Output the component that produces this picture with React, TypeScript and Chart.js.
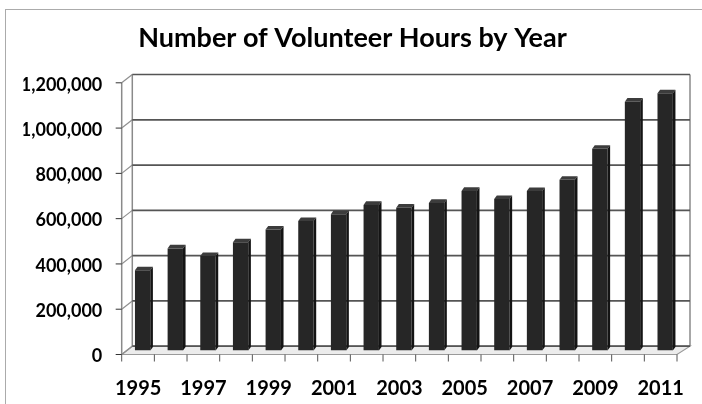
import React, { useEffect, useRef } from "react";
import { Chart, registerables } from "chart.js";

Chart.register(...registerables);

const years = ["1995", "1996", "1997", "1998", "1999", "2000", "2001", "2002", "2003", "2004", "2005", "2006", "2007", "2008", "2009", "2010", "2011"];
const volunteerHours = [354000, 451000, 417000, 478000, 534000, 572000, 602000, 643000, 631000, 652000, 705000, 669000, 704000, 754000, 891000, 1099000, 1136000];
const yTickStep = 200000;
const yMax = 1200000;
const titleText = "Number of Volunteer Hours by Year";

const FONT = "Lato, 'Open Sans', sans-serif";

const depthPlugin = {
  id: "depth3d",
  beforeDatasetsDraw(chart: any) {
    const { ctx, chartArea, scales } = chart;
    const ys = scales.y;
    const fl = chartArea.left - 4.6;
    const fr = chartArea.right - 4.5;
    const bl = chartArea.left + 6;
    const br = chartArea.right + 8.5;
    const yf = (v: number) => ys.getPixelForValue(v) + 4;
    const yb = (v: number) => ys.getPixelForValue(v) - 4.3;
    const vals: number[] = ys.ticks.map((t: any) => t.value);
    const top = Math.max(...vals);
    ctx.save();
    // floor
    ctx.beginPath();
    ctx.moveTo(fl, yf(0));
    ctx.lineTo(fr, yf(0));
    ctx.lineTo(br, yb(0));
    ctx.lineTo(bl, yb(0));
    ctx.closePath();
    ctx.fillStyle = "#ececec";
    ctx.fill();
    ctx.strokeStyle = "#9a9a9a";
    ctx.lineWidth = 1.2;
    ctx.stroke();
    // wall edges
    ctx.strokeStyle = "#8a8a8a";
    ctx.lineWidth = 1.5;
    ctx.beginPath();
    ctx.moveTo(fl, yf(0));
    ctx.lineTo(fl, yf(top));
    ctx.moveTo(bl, yb(0));
    ctx.lineTo(bl, yb(top));
    ctx.moveTo(br, yb(0));
    ctx.lineTo(br, yb(top));
    ctx.stroke();
    // diagonals on left wall
    ctx.lineWidth = 1.2;
    ctx.strokeStyle = "#8f8f8f";
    vals.forEach((v) => {
      ctx.beginPath();
      ctx.moveTo(fl, yf(v));
      ctx.lineTo(bl, yb(v));
      ctx.stroke();
    });
    // back wall gridlines
    ctx.strokeStyle = "#555555";
    ctx.lineWidth = 1.7;
    vals.forEach((v) => {
      ctx.beginPath();
      ctx.moveTo(bl, yb(v));
      ctx.lineTo(br, yb(v));
      ctx.stroke();
    });
    // front y ticks
    ctx.strokeStyle = "#333";
    ctx.lineWidth = 1;
    vals.forEach((v) => {
      ctx.beginPath();
      ctx.moveTo(fl - 6, yf(v));
      ctx.lineTo(fl, yf(v));
      ctx.stroke();
    });
    // x tick marks
    const n = years.length;
    ctx.strokeStyle = "#555";
    for (let i = 0; i <= n; i++) {
      const xx = fl + (i * (fr - fl)) / n;
      ctx.beginPath();
      ctx.moveTo(xx, yf(0));
      ctx.lineTo(xx, yf(0) + 7);
      ctx.stroke();
    }
    ctx.restore();
  },
  afterDatasetsDraw(chart: any) {
    const { ctx } = chart;
    const meta = chart.getDatasetMeta(0);
    const dx = 2.6;
    const dy = 3.6;
    ctx.save();
    meta.data.forEach((bar: any) => {
      const { x, y, base, width } = bar.getProps(["x", "y", "base", "width"], true);
      const l = x - width / 2;
      const r = x + width / 2;
      ctx.beginPath();
      ctx.moveTo(l, y);
      ctx.lineTo(l + dx, y - dy);
      ctx.lineTo(r + dx, y - dy);
      ctx.lineTo(r, y);
      ctx.closePath();
      ctx.fillStyle = "#3c3c3c";
      ctx.fill();
      ctx.beginPath();
      ctx.moveTo(r, y);
      ctx.lineTo(r + dx, y - dy);
      ctx.lineTo(r + dx, base - dy);
      ctx.lineTo(r, base);
      ctx.closePath();
      ctx.fillStyle = "#141414";
      ctx.fill();
    });
    ctx.restore();
  },
};

export default function App() {
  const ref = useRef<HTMLCanvasElement | null>(null);
  useEffect(() => {
    if (!ref.current) return;
    const chart = new Chart(ref.current, {
      type: "bar",
      data: {
        labels: years,
        datasets: [
          {
            data: volunteerHours,
            backgroundColor: "#262626",
            borderWidth: 0,
            categoryPercentage: 1,
            barPercentage: 0.47,
          },
        ],
      },
      options: {
        responsive: false,
        animation: false,
        layout: { padding: { left: 23.5, right: 20.5, top: 0, bottom: 0 } },
        plugins: {
          legend: { display: false },
          tooltip: { enabled: false },
          title: {
            display: true,
            text: titleText,
            color: "#000",
            font: { family: FONT, size: 27, weight: "bold", lineHeight: 1.2 },
            padding: { top: 21.8, bottom: 24.6 },
          },
        },
        scales: {
          x: {
            offset: true,
            grid: { display: false, drawTicks: false },
            border: { display: false },
            ticks: {
              autoSkip: false,
              maxRotation: 0,
              minRotation: 0,
              padding: 0,
              labelOffset: -4.5,
              color: "#000",
              font: { family: FONT, size: 20, weight: "bold", lineHeight: 3.8 },
              callback: (_v: any, i: number) => (i % 2 === 0 ? years[i] : ""),
            },
            afterFit: (s: any) => {
              s.height = 53.5;
            },
          },
          y: {
            min: 0,
            max: yMax,
            grid: { display: false, drawTicks: false },
            border: { display: false },
            ticks: {
              stepSize: yTickStep,
              padding: 24,
              labelOffset: 6,
              color: "#000",
              font: { family: FONT, size: 18, weight: "bold" },
              callback: (v: any) => Number(v).toLocaleString("en-US"),
            },
            afterFit: (s: any) => {
              s.width = 102.8;
            },
          },
        },
      },
      plugins: [depthPlugin],
    });
    return () => chart.destroy();
  }, []);
  return (
    <div style={{ position: "fixed", left: 0, top: 0, width: 702, height: 404, overflow: "hidden", background: "#fff" }}>
      <div style={{ position: "absolute", left: 5, top: 9, width: 800, height: 600, border: "1px solid #ababab" }} />
      <canvas ref={ref} width={702} height={404} style={{ position: "absolute", left: 0, top: 0, width: 702, height: 404 }} />
    </div>
  );
}
